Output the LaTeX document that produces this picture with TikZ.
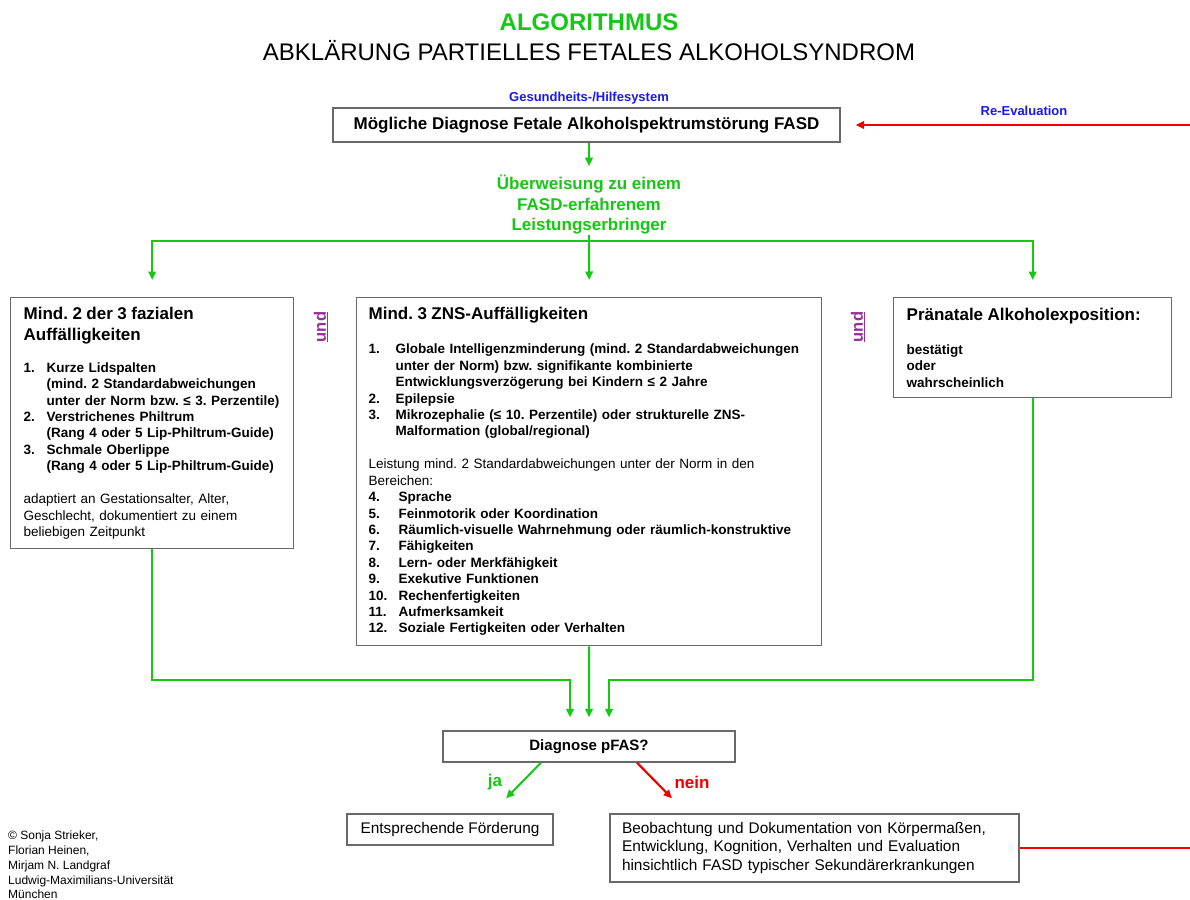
\documentclass[tikz,border=0pt]{standalone}
\usepackage{fontspec}
\setmainfont{Liberation Sans}
\usepackage{tikz}
\usetikzlibrary{arrows.meta,calc}
\frenchspacing

\definecolor{fgreen}{RGB}{20,200,20}
\definecolor{fblue}{RGB}{25,25,235}
\definecolor{fred}{RGB}{240,0,0}
\definecolor{fpurple}{RGB}{153,45,153}
\definecolor{boxgray}{RGB}{105,105,105}

\newcommand{\boxhead}{\fontsize{17}{21}\selectfont\bfseries}
\newcommand{\boxbody}{\fontsize{13.5}{16.4}\selectfont}
\newlength{\numw}
\newcommand{\numitem}[2]{\mbox{\makebox[\numw][l]{#1}#2}}
\newcommand{\contline}[1]{\mbox{\hspace*{\numw}#1}}

\begin{document}
\begin{tikzpicture}[
        x=1pt, y=-1pt,
        every node/.style={font=\boxbody, inner sep=0pt},
        box/.style={draw=boxgray, line width=1.3pt, anchor=north west, align=left, inner xsep=13pt},
        flat_box/.style={draw=boxgray, line width=1.3pt, align=center},
        green_line/.style={draw=fgreen, line width=2pt},
        green_arrow/.style={green_line, -{Triangle[length=8.5pt,width=7.5pt]}},
        red_line/.style={draw=fred, line width=2.2pt},
        red_arrow/.style={red_line, -{Triangle[length=8.5pt,width=7.5pt]}},
        und_label/.style={rotate=90, font=\fontsize{16.5}{18}\selectfont\bfseries, text=fpurple}
    ]
    \path[fill=white, use as bounding box] (0,0) rectangle (1190,899);

    \node[anchor=base, font=\fontsize{24}{28}\selectfont\bfseries, text=fgreen] (title) at (589,30.6) {ALGORITHMUS};
    \node[anchor=base, font=\fontsize{24}{28}\selectfont] (subtitle) at (589,60.6) {ABKLÄRUNG PARTIELLES FETALES ALKOHOLSYNDROM};

    \node[anchor=base, font=\fontsize{13}{15}\selectfont\bfseries, text=fblue] (system) at (589,101.5) {Gesundheits-/Hilfesystem};
    \node[anchor=base, font=\fontsize{13}{15}\selectfont\bfseries, text=fblue] (reeval) at (1024,115.5) {Re-Evaluation};

    \node[flat_box, minimum width=507pt, minimum height=34pt, font=\fontsize{17}{20}\selectfont\bfseries] (top_box) at (586.5,125)
        {Mögliche Diagnose Fetale Alkoholspektrumstörung FASD};

    \node[align=center, font=\fontsize{17}{20.5}\selectfont\bfseries, text=fgreen] (ueb_text) at (589,205)
        {Überweisung zu einem\\FASD-erfahrenem\\Leistungserbringer};

    \node[box, text width=257pt, minimum height=251pt] (left_box) at (10,297) {%
        {\boxhead Mind. 2 der 3 fazialen\\Auffälligkeiten\par}
        \vspace{15.6pt}
        {\boxbody\bfseries\setlength{\numw}{23pt}%
        \numitem{1.}{Kurze Lidspalten}\\
        \contline{(mind. 2 Standardabweichungen}\\
        \contline{unter der Norm bzw. ≤ 3. Perzentile)}\\
        \numitem{2.}{Verstrichenes Philtrum}\\
        \contline{(Rang 4 oder 5 Lip-Philtrum-Guide)}\\
        \numitem{3.}{Schmale Oberlippe}\\
        \contline{(Rang 4 oder 5 Lip-Philtrum-Guide)}\\[16.6pt]
        \mdseries adaptiert an Gestationsalter, Alter,\\
        Geschlecht, dokumentiert zu einem\\
        beliebigen Zeitpunkt\par}};

    \node[box, inner xsep=12pt, text width=441pt, minimum height=348pt] (mid_box) at (356,297) {%
        {\boxhead Mind. 3 ZNS-Auffälligkeiten\par}
        \vspace{17.6pt}
        {\boxbody\bfseries\setlength{\numw}{27pt}%
        \numitem{1.}{Globale Intelligenzminderung (mind. 2 Standardabweichungen}\\
        \contline{unter der Norm) bzw. signifikante kombinierte}\\
        \contline{Entwicklungsverzögerung bei Kindern ≤ 2 Jahre}\\
        \numitem{2.}{Epilepsie}\\
        \numitem{3.}{Mikrozephalie (≤ 10. Perzentile) oder strukturelle ZNS-}\\
        \contline{Malformation (global/regional)}\\[16.6pt]
        \mdseries Leistung mind. 2 Standardabweichungen unter der Norm in den\\
        Bereichen:\\
        \bfseries\setlength{\numw}{30pt}%
        \numitem{4.}{Sprache}\\
        \numitem{5.}{Feinmotorik oder Koordination}\\
        \numitem{6.}{Räumlich-visuelle Wahrnehmung oder räumlich-konstruktive}\\
        \numitem{7.}{Fähigkeiten}\\
        \numitem{8.}{Lern- oder Merkfähigkeit}\\
        \numitem{9.}{Exekutive Funktionen}\\
        \numitem{10.}{Rechenfertigkeiten}\\
        \numitem{11.}{Aufmerksamkeit}\\
        \numitem{12.}{Soziale Fertigkeiten oder Verhalten}\par}};

    \node[box, text width=252pt, minimum height=100pt] (right_box) at (893,297) {%
        {\boxhead Pränatale Alkoholexposition:\par}
        \vspace{17.6pt}
        {\boxbody\bfseries bestätigt\\oder\\wahrscheinlich\par}};

    \node[und_label] (und_left) at (321,327) {\underline{und}};
    \node[und_label] (und_right) at (858,327) {\underline{und}};

    \node[flat_box, minimum width=292pt, minimum height=31pt, font=\fontsize{15}{18}\selectfont\bfseries] (diag_box) at (589,746.5) {Diagnose pFAS?};
    \node[flat_box, minimum width=206pt, minimum height=31pt, font=\fontsize{15.4}{18}\selectfont] (ford_box) at (450,829.5) {Entsprechende Förderung};
    \node[flat_box, align=left, inner xsep=12pt, text width=385pt, minimum height=68pt, font=\fontsize{15.4}{18.5}\selectfont] (beob_box) at (814.5,848)
        {Beobachtung und Dokumentation von Körpermaßen,\\Entwicklung, Kognition, Verhalten und Evaluation\\hinsichtlich FASD typischer Sekundärerkrankungen};

    \node[font=\fontsize{17}{20}\selectfont\bfseries, text=fgreen] (ja_label) at (495,782) {ja};
    \node[font=\fontsize{17}{20}\selectfont\bfseries, text=fred] (nein_label) at (692,782) {nein};

    \node[anchor=north west, align=left, font=\fontsize{12}{14.7}\selectfont] (credit) at (8,831)
        {© Sonja Strieker,\\Florian Heinen,\\Mirjam N. Landgraf\\Ludwig-Maximilians-Universität\\München};

    \coordinate (split) at (589,241);
    \coordinate (left_join) at (570,680);
    \coordinate (right_join) at (609,680);
    \coordinate (loop_in) at (1190,125);
    \coordinate (loop_out) at (1190,848);

    \draw[green_arrow] (top_box.south -| ueb_text.north) -- ([yshift=9pt]ueb_text.north);
    \draw[green_line] (ueb_text.south) -- (split);
    \draw[green_arrow] (split) -| ([yshift=17pt]left_box.north);
    \draw[green_arrow] (split) -- ([yshift=17pt]mid_box.north);
    \draw[green_arrow] (split) -| ([yshift=17pt]right_box.north);

    \draw[green_arrow] (left_box.south) |- (left_join) -- ($(left_join |- diag_box.north)+(0,-13)$);
    \draw[green_arrow] (mid_box.south) -- ($(diag_box.north)+(0,-13)$);
    \draw[green_arrow] (right_box.south) |- (right_join) -- ($(right_join |- diag_box.north)+(0,-13)$);

    \draw[green_arrow] ([xshift=-48pt]diag_box.south) -- ([xshift=56pt,yshift=15pt]ford_box.north);
    \draw[red_arrow] ([xshift=48pt]diag_box.south) -- ([xshift=-142.5pt,yshift=15pt]beob_box.north);

    \draw[red_arrow] (loop_in) -- ([xshift=15pt]top_box.east);
    \draw[red_line] (beob_box.east) -- (loop_out);
\end{tikzpicture}
\end{document}
